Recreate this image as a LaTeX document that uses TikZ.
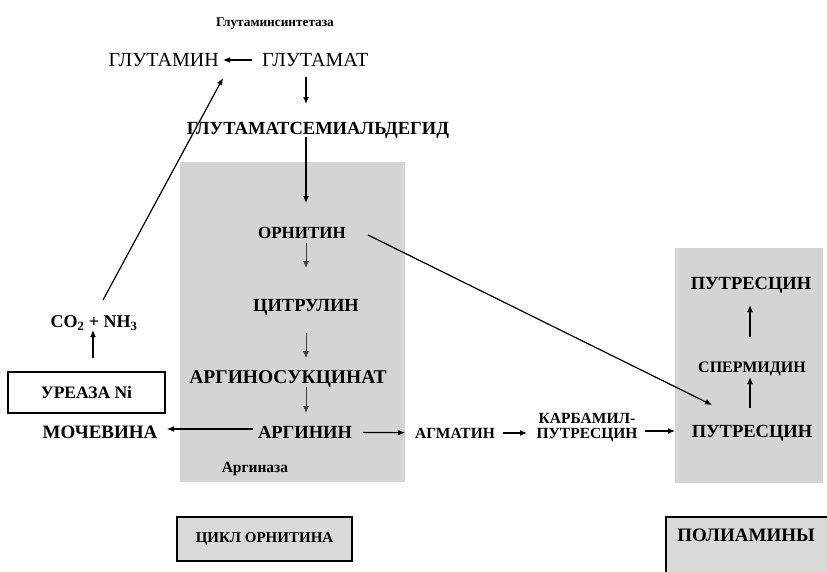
\documentclass[tikz,border=0pt]{standalone}
\usepackage{fontspec}
\setmainfont{Liberation Serif}
\usetikzlibrary{arrows.meta}
\begin{document}
\begin{tikzpicture}[x=1pt,y=-1pt,
  lbl/.style={font=\bfseries\fontsize{17}{19}\selectfont, inner sep=0pt, text depth=0pt},
  fs/.style={font=\bfseries\fontsize{#1}{#1}\selectfont},
  reg/.style={font=\fontsize{20}{22}\selectfont, inner sep=0pt, text depth=0pt},
  arr/.style={line width=1.2pt, -{Latex[length=7pt,width=6pt]}},
  varr/.style={line width=0.8pt, draw=black!75, -{Latex[length=7pt,width=6pt]}},
  panel/.style={fill=black!17, draw=none},
  catbox/.style={fill=black!15, draw=black, line width=1.3pt},
  urebox/.style={draw=black, line width=1.2pt, fill=white, minimum width=157pt, minimum height=41pt, inner sep=0pt, font=\bfseries\fontsize{17.5}{19}\selectfont}]
\useasboundingbox (0,0) rectangle (827,571);
% shaded panels
\fill[panel] (180,162) rectangle (405,482);
\fill[panel] (675,248) rectangle (823,483);
\draw[catbox] (666,517) rectangle (840,590);
% nodes
\coordinate (col) at (306,0);
\node[lbl, fs=13.3] (gs) at (275,22) {Глутаминсинтетаза};
\node[reg, anchor=east] (gln) at (219,60) {ГЛУТАМИН};
\node[reg, anchor=west] (glu) at (262,60) {ГЛУТАМАТ};
\node[lbl, fs=18.5] (sa) at (318,128) {ГЛУТАМАТСЕМИАЛЬДЕГИД};
\node[lbl] (orn) at (302,233) {ОРНИТИН};
\node[lbl, fs=18.5] (cit) at (306,305) {ЦИТРУЛИН};
\node[lbl, fs=19.5] (asa) at (288,377) {АРГИНОСУКЦИНАТ};
\node[lbl, fs=18.5] (arg) at (305,432) {АРГИНИН};
\node[lbl, fs=19] (moch) at (100,432) {МОЧЕВИНА};
\node[lbl, fs=15.5] (argz) at (255,467) {Аргиназа};
\node[lbl, fs=15.5] (agm) at (455,433) {АГМАТИН};
\node[lbl, fs=15.5, align=center] (karb) at (587,426) {КАРБАМИЛ-\\ПУТРЕСЦИН};
\node[lbl, fs=18.5] (put1) at (752,431) {ПУТРЕСЦИН};
\node[lbl, fs=16] (sperm) at (752,367) {СПЕРМИДИН};
\node[lbl, fs=18.5] (put2) at (751,283) {ПУТРЕСЦИН};
\node[urebox] (ure) at (86.5,392.5) {УРЕАЗА Ni};
\node[lbl, fs=18] (co2) at (94,322) {CO\textsubscript{2} + NH\textsubscript{3}};
\node[catbox, minimum width=175pt, minimum height=44pt, inner sep=0pt, font=\bfseries\fontsize{15}{17}\selectfont] (cyc) at (264.5,539) {ЦИКЛ ОРНИТИНА};
\node[lbl, fs=19] (poly) at (746,535) {ПОЛИАМИНЫ};
% connectors
\draw[arr, shorten <=10pt] (glu.west) -- ([xshift=4pt]gln.east);
\draw[arr] ([shift={(9,-22)}]co2.center) -- ([shift={(4,18)}]gln.east);
\draw[arr] ([shift={(6.5,-34.5)}]ure.center) -- ([shift={(-1,8)}]co2.center);
\draw[arr, shorten <=17pt, shorten >=24pt] (glu.center -| col) -- (sa.center -| col);
\draw[arr, shorten <=9pt, shorten >=30pt] (sa.center -| col) -- (orn.center -| col);
\draw[varr, shorten <=10pt, shorten >=37pt] (orn.center -| col) -- (cit.center -| col);
\draw[varr, shorten <=28pt, shorten >=19pt] (cit.center -| col) -- (asa.center -| col);
\draw[varr, shorten <=10pt, shorten >=19pt] (asa.center -| col) -- (arg.center -| col);
\draw[arr, shorten <=52pt, shorten >=67pt] ([yshift=3pt]arg.center) -- ([yshift=3pt]moch.center);
\draw[arr, shorten <=58pt, shorten >=50pt] (arg.center) -- (agm.center);
\draw[arr, shorten <=48pt, shorten >=60pt] (agm.center) -- (agm.center -| karb.center);
\draw[arr, shorten <=58pt, shorten >=77pt] (karb.center |- put1.center) -- (put1.center);
\draw[arr, shorten <=23pt, shorten >=10pt] ([xshift=-2pt]put1.center) -- ([xshift=-2pt]sperm.center);
\draw[arr, shorten <=30pt, shorten >=22pt] ([xshift=-2pt]sperm.center) -- ([xshift=-1pt]put2.center);
\draw[arr] ([shift={(66,2)}]orn.center) -- ([shift={(-40,-26)}]put1.center);
\end{tikzpicture}
\end{document}
